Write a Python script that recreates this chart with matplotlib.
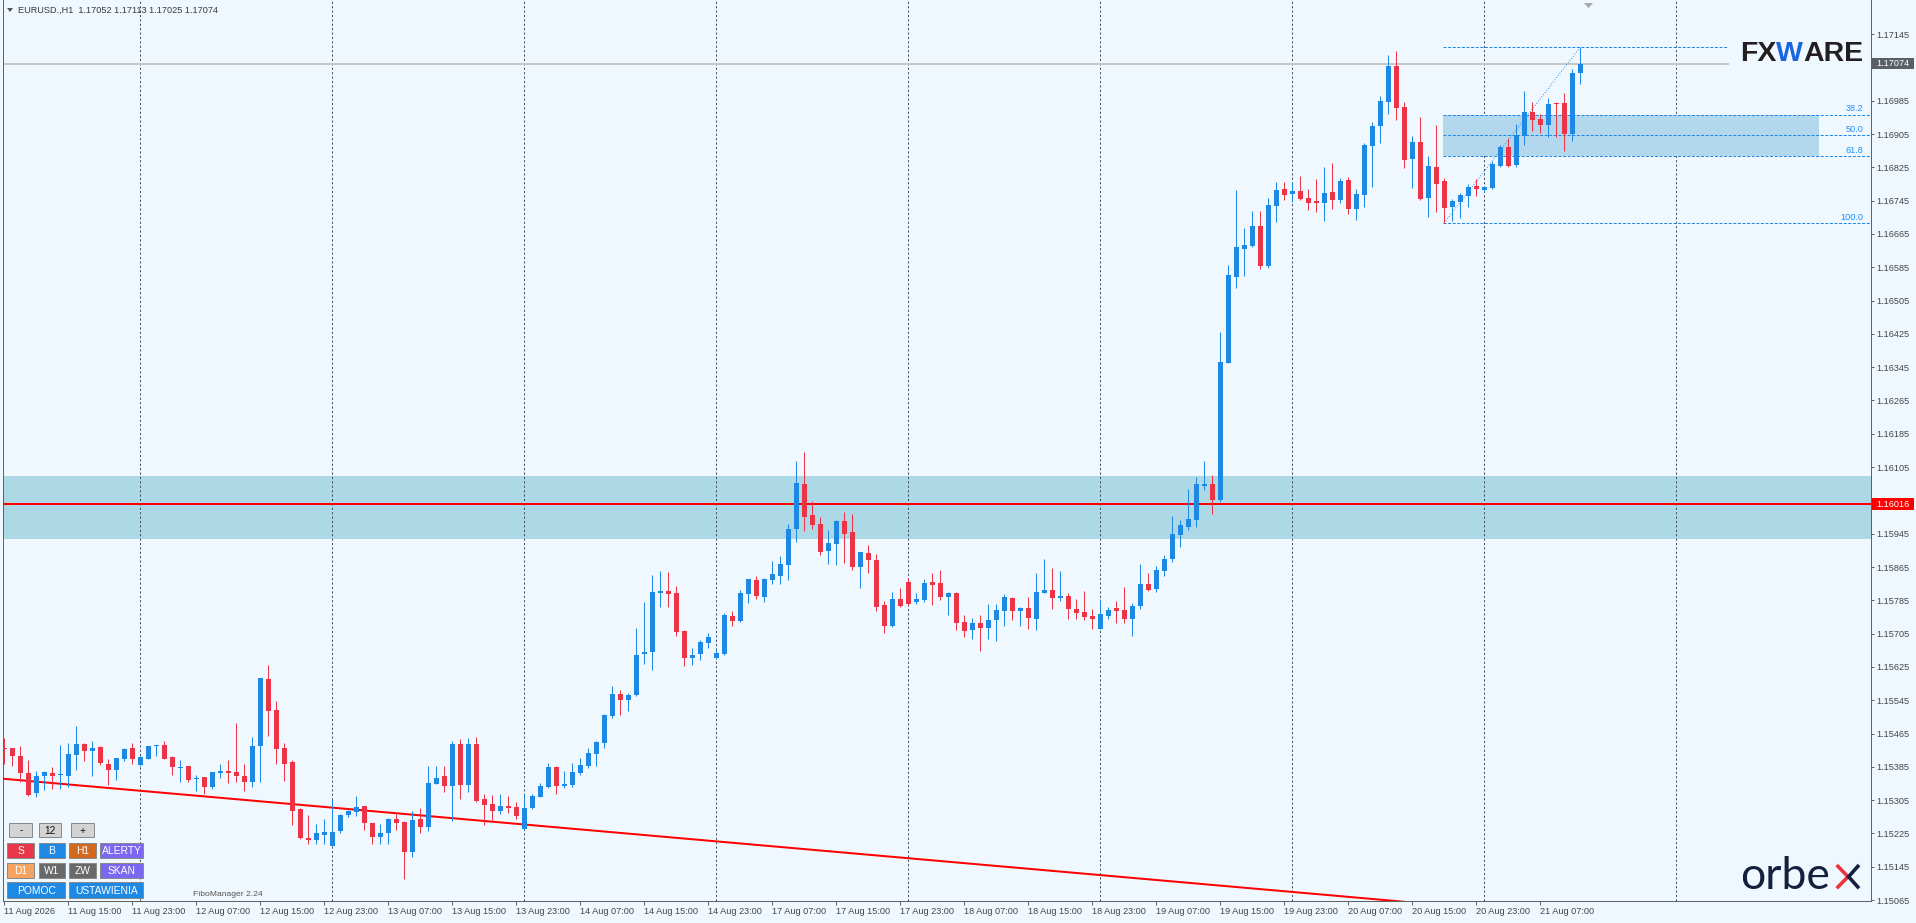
import matplotlib
matplotlib.use("Agg")
import matplotlib.pyplot as plt
from matplotlib.patches import Rectangle, Polygon
from matplotlib.lines import Line2D

plt.rcParams['font.family'] = ['Liberation Sans', 'DejaVu Sans']

# ---------------- data (EURUSD H1, bars from 11 Aug 2026 07:00) ----------------
opens = [1.15431, 1.15430, 1.15411, 1.15370, 1.15323, 1.15362, 1.15370, 1.15365, 1.15363, 1.15414,
         1.15440, 1.15424, 1.15432, 1.15393, 1.15378, 1.15404, 1.15430, 1.15390, 1.15404, 1.15434,
         1.15438, 1.15408, 1.15383, 1.15386, 1.15355, 1.15360, 1.15337, 1.15371, 1.15375, 1.15373,
         1.15362, 1.15349, 1.15435, 1.15595, 1.15522, 1.15430, 1.15397, 1.15283, 1.15213, 1.15209,
         1.15222, 1.15196, 1.15232, 1.15269, 1.15277, 1.15291, 1.15249, 1.15217, 1.15225, 1.15260,
         1.15253, 1.15181, 1.15259, 1.15241, 1.15345, 1.15363, 1.15339, 1.15440, 1.15341, 1.15440,
         1.15307, 1.15296, 1.15280, 1.15291, 1.15289, 1.15235, 1.15285, 1.15313, 1.15336, 1.15385,
         1.15340, 1.15341, 1.15371, 1.15388, 1.15417, 1.15443, 1.15507, 1.15560, 1.15546, 1.15557,
         1.15657, 1.15661, 1.15803, 1.15807, 1.15803, 1.15712, 1.15647, 1.15656, 1.15683, 1.15646,
         1.15656, 1.15747, 1.15735, 1.15800, 1.15834, 1.15794, 1.15834, 1.15843, 1.15870, 1.15956,
         1.16064, 1.15990, 1.15968, 1.15904, 1.15920, 1.15976, 1.15949, 1.15865, 1.15899, 1.15882,
         1.15774, 1.15723, 1.15788, 1.15829, 1.15781, 1.15786, 1.15829, 1.15827, 1.15793, 1.15803,
         1.15733, 1.15714, 1.15731, 1.15719, 1.15738, 1.15759, 1.15791, 1.15759, 1.15767, 1.15740,
         1.15803, 1.15810, 1.15791, 1.15795, 1.15764, 1.15757, 1.15747, 1.15716, 1.15747, 1.15767,
         1.15762, 1.15740, 1.15771, 1.15824, 1.15812, 1.15855, 1.15884, 1.15942, 1.15962, 1.15978,
         1.16060, 1.16064, 1.16026, 1.16355, 1.16562, 1.16629, 1.16636, 1.16684, 1.16588, 1.16732,
         1.16773, 1.16762, 1.16768, 1.16751, 1.16744, 1.16739, 1.16766, 1.16746, 1.16795, 1.16725,
         1.16759, 1.16876, 1.16924, 1.16982, 1.17068, 1.16970, 1.16845, 1.16886, 1.16751, 1.16826,
         1.16792, 1.16730, 1.16742, 1.16756, 1.16780, 1.16771, 1.16775, 1.16828, 1.16874, 1.16831,
         1.16900, 1.16958, 1.16941, 1.16927, 1.16980, 1.16980, 1.16905, 1.17052]
highs = [1.15454, 1.15431, 1.15435, 1.15402, 1.15374, 1.15375, 1.15384, 1.15438, 1.15442, 1.15482,
         1.15442, 1.15447, 1.15435, 1.15404, 1.15406, 1.15430, 1.15442, 1.15410, 1.15436, 1.15438,
         1.15447, 1.15410, 1.15402, 1.15387, 1.15366, 1.15361, 1.15373, 1.15393, 1.15402, 1.15491,
         1.15391, 1.15456, 1.15599, 1.15630, 1.15543, 1.15442, 1.15402, 1.15285, 1.15269, 1.15248,
         1.15260, 1.15309, 1.15272, 1.15281, 1.15315, 1.15292, 1.15251, 1.15247, 1.15261, 1.15272,
         1.15254, 1.15280, 1.15285, 1.15386, 1.15386, 1.15387, 1.15446, 1.15452, 1.15454, 1.15456,
         1.15320, 1.15317, 1.15321, 1.15315, 1.15301, 1.15320, 1.15320, 1.15347, 1.15395, 1.15386,
         1.15375, 1.15395, 1.15406, 1.15431, 1.15447, 1.15512, 1.15580, 1.15570, 1.15562, 1.15719,
         1.15781, 1.15846, 1.15855, 1.15853, 1.15819, 1.15714, 1.15670, 1.15690, 1.15706, 1.15668,
         1.15755, 1.15759, 1.15810, 1.15837, 1.15843, 1.15839, 1.15879, 1.15891, 1.15968, 1.16120,
         1.16141, 1.16024, 1.15985, 1.15954, 1.15978, 1.15997, 1.15992, 1.15902, 1.15918, 1.15896,
         1.15783, 1.15805, 1.15815, 1.15839, 1.15803, 1.15836, 1.15851, 1.15858, 1.15805, 1.15804,
         1.15750, 1.15743, 1.15750, 1.15776, 1.15776, 1.15800, 1.15793, 1.15769, 1.15793, 1.15851,
         1.15884, 1.15863, 1.15855, 1.15803, 1.15788, 1.15807, 1.15764, 1.15788, 1.15769, 1.15783,
         1.15817, 1.15779, 1.15872, 1.15851, 1.15867, 1.15894, 1.15988, 1.15978, 1.16052, 1.16081,
         1.16120, 1.16086, 1.16430, 1.16590, 1.16771, 1.16679, 1.16720, 1.16720, 1.16751, 1.16790,
         1.16790, 1.16790, 1.16804, 1.16773, 1.16797, 1.16826, 1.16835, 1.16799, 1.16802, 1.16773,
         1.16883, 1.16934, 1.16996, 1.17095, 1.17104, 1.16982, 1.16900, 1.16946, 1.16852, 1.16927,
         1.16799, 1.16749, 1.16763, 1.16785, 1.16797, 1.16779, 1.16840, 1.16879, 1.16896, 1.16929,
         1.17008, 1.16982, 1.16953, 1.16992, 1.16982, 1.17004, 1.17061, 1.17113]
lows = [1.15393, 1.15386, 1.15349, 1.15316, 1.15313, 1.15329, 1.15333, 1.15333, 1.15337, 1.15378,
        1.15398, 1.15363, 1.15390, 1.15341, 1.15353, 1.15400, 1.15393, 1.15387, 1.15403, 1.15410,
        1.15403, 1.15366, 1.15349, 1.15349, 1.15328, 1.15321, 1.15333, 1.15358, 1.15347, 1.15349,
        1.15328, 1.15337, 1.15349, 1.15459, 1.15391, 1.15352, 1.15245, 1.15212, 1.15199, 1.15199,
        1.15199, 1.15195, 1.15227, 1.15264, 1.15267, 1.15233, 1.15199, 1.15199, 1.15199, 1.15233,
        1.15116, 1.15169, 1.15227, 1.15232, 1.15344, 1.15325, 1.15256, 1.15307, 1.15324, 1.15301,
        1.15245, 1.15257, 1.15272, 1.15275, 1.15260, 1.15233, 1.15284, 1.15312, 1.15334, 1.15321,
        1.15334, 1.15337, 1.15365, 1.15383, 1.15388, 1.15431, 1.15503, 1.15510, 1.15520, 1.15556,
        1.15633, 1.15618, 1.15770, 1.15770, 1.15699, 1.15627, 1.15630, 1.15642, 1.15670, 1.15645,
        1.15654, 1.15723, 1.15734, 1.15779, 1.15788, 1.15781, 1.15824, 1.15824, 1.15834, 1.15925,
        1.15951, 1.15956, 1.15894, 1.15872, 1.15870, 1.15875, 1.15858, 1.15815, 1.15851, 1.15759,
        1.15706, 1.15721, 1.15770, 1.15774, 1.15776, 1.15781, 1.15774, 1.15786, 1.15750, 1.15714,
        1.15697, 1.15692, 1.15663, 1.15692, 1.15687, 1.15723, 1.15738, 1.15723, 1.15716, 1.15714,
        1.15802, 1.15764, 1.15783, 1.15740, 1.15740, 1.15738, 1.15716, 1.15715, 1.15740, 1.15731,
        1.15731, 1.15699, 1.15764, 1.15807, 1.15805, 1.15843, 1.15877, 1.15913, 1.15954, 1.15962,
        1.16050, 1.15992, 1.16021, 1.16354, 1.16535, 1.16564, 1.16634, 1.16581, 1.16583, 1.16694,
        1.16746, 1.16742, 1.16746, 1.16722, 1.16718, 1.16696, 1.16725, 1.16739, 1.16713, 1.16699,
        1.16730, 1.16778, 1.16883, 1.16953, 1.16939, 1.16823, 1.16775, 1.16746, 1.16706, 1.16718,
        1.16691, 1.16696, 1.16703, 1.16730, 1.16756, 1.16766, 1.16774, 1.16827, 1.16826, 1.16826,
        1.16879, 1.16912, 1.16907, 1.16898, 1.16898, 1.16864, 1.16888, 1.17025]
closes = [1.15427, 1.15410, 1.15370, 1.15317, 1.15363, 1.15373, 1.15364, 1.15367, 1.15416, 1.15440,
          1.15424, 1.15430, 1.15395, 1.15378, 1.15406, 1.15428, 1.15404, 1.15408, 1.15435, 1.15436,
          1.15404, 1.15384, 1.15385, 1.15353, 1.15359, 1.15337, 1.15372, 1.15375, 1.15371, 1.15362,
          1.15349, 1.15435, 1.15598, 1.15520, 1.15429, 1.15393, 1.15280, 1.15215, 1.15209, 1.15225,
          1.15229, 1.15229, 1.15269, 1.15279, 1.15289, 1.15249, 1.15217, 1.15225, 1.15260, 1.15249,
          1.15181, 1.15257, 1.15241, 1.15347, 1.15359, 1.15339, 1.15440, 1.15342, 1.15440, 1.15304,
          1.15293, 1.15280, 1.15291, 1.15287, 1.15267, 1.15286, 1.15315, 1.15339, 1.15385, 1.15340,
          1.15344, 1.15373, 1.15389, 1.15418, 1.15445, 1.15509, 1.15560, 1.15546, 1.15557, 1.15654,
          1.15661, 1.15805, 1.15807, 1.15801, 1.15709, 1.15647, 1.15654, 1.15685, 1.15697, 1.15658,
          1.15750, 1.15735, 1.15803, 1.15836, 1.15795, 1.15836, 1.15848, 1.15872, 1.15956, 1.16067,
          1.15985, 1.15966, 1.15901, 1.15923, 1.15976, 1.15944, 1.15865, 1.15901, 1.15882, 1.15769,
          1.15723, 1.15788, 1.15771, 1.15776, 1.15788, 1.15827, 1.15822, 1.15793, 1.15803, 1.15731,
          1.15712, 1.15731, 1.15719, 1.15738, 1.15762, 1.15793, 1.15759, 1.15767, 1.15743, 1.15805,
          1.15810, 1.15791, 1.15795, 1.15764, 1.15755, 1.15745, 1.15740, 1.15752, 1.15762, 1.15759,
          1.15740, 1.15771, 1.15824, 1.15810, 1.15858, 1.15884, 1.15944, 1.15966, 1.15980, 1.16064,
          1.16064, 1.16026, 1.16357, 1.16566, 1.16634, 1.16638, 1.16684, 1.16588, 1.16734, 1.16771,
          1.16759, 1.16768, 1.16749, 1.16739, 1.16739, 1.16763, 1.16746, 1.16792, 1.16725, 1.16761,
          1.16879, 1.16924, 1.16984, 1.17068, 1.16967, 1.16843, 1.16886, 1.16749, 1.16828, 1.16785,
          1.16727, 1.16744, 1.16759, 1.16778, 1.16773, 1.16778, 1.16833, 1.16874, 1.16828, 1.16903,
          1.16958, 1.16939, 1.16927, 1.16977, 1.16978, 1.16905, 1.17052, 1.17074]

header_text = "EURUSD.,H1  1.17052 1.17113 1.17025 1.17074"
xtick_idx = [0, 8, 16, 24, 32, 40, 48, 56, 64, 72, 80, 88, 96, 104, 112, 120, 128, 136,
             144, 152, 160, 168, 176, 184, 192]
xtick_labels = ["11 Aug 2026", "11 Aug 15:00", "11 Aug 23:00", "12 Aug 07:00", "12 Aug 15:00",
                "12 Aug 23:00", "13 Aug 07:00", "13 Aug 15:00", "13 Aug 23:00", "14 Aug 07:00",
                "14 Aug 15:00", "14 Aug 23:00", "17 Aug 07:00", "17 Aug 15:00", "17 Aug 23:00",
                "18 Aug 07:00", "18 Aug 15:00", "18 Aug 23:00", "19 Aug 07:00", "19 Aug 15:00",
                "19 Aug 23:00", "20 Aug 07:00", "20 Aug 15:00", "20 Aug 23:00", "21 Aug 07:00"]
ytick_vals = [1.15065, 1.15145, 1.15225, 1.15305, 1.15385, 1.15465, 1.15545, 1.15625, 1.15705,
              1.15785, 1.15865, 1.15945, 1.16025, 1.16105, 1.16185, 1.16265, 1.16345, 1.16425,
              1.16505, 1.16585, 1.16665, 1.16745, 1.16825, 1.16905, 1.16985, 1.17065, 1.17145]
day_sep_idx = [17, 41, 65, 89, 113, 137, 161, 185, 209]

zone_low, zone_high = 1.15932, 1.16084
level_line = 1.16016
last_price = 1.17074
trend_idx = [-1, 175]
trend_val = [1.15358, 1.15061]
fib_low_idx, fib_high_idx = 180, 197
fib_ratios = [0.0, 38.2, 50.0, 61.8, 100.0]

# ---------------- figure ----------------
W, H = 1916, 923
PT = 0.72
BG = '#f0f8ff'
BULL = '#1e88e5'
BEAR = '#ec3446'
AXC = '#5f6368'
TXT = '#454545'

fig = plt.figure(figsize=(W / 100, H / 100), dpi=100, facecolor=BG)
L_px, R_px, B_px = 2.5, 1871.0, 901.0
ax = fig.add_axes([L_px / W, 1 - B_px / H, (R_px - L_px) / W, B_px / H])
ax.set_facecolor(BG)
X_LEFT, X_RIGHT = -0.1875, 233.375
Y_BOT, Y_TOP = 1.150628, 1.17227
ax.set_xlim(X_LEFT, X_RIGHT)
ax.set_ylim(Y_BOT, Y_TOP)
px_p = (Y_TOP - Y_BOT) / B_px
ax_w_px = R_px - L_px

def fx(x):
    return x / W

def fy(y):
    return 1 - y / H

# zone and separators
ax.axhspan(zone_low, zone_high, color='#add8e6', zorder=0.5, lw=0)
for g in day_sep_idx:
    ax.axvline(g, color='#44505c', lw=1 * PT, dashes=(2.2, 2.2), zorder=1)

# horizontal lines
ax.hlines(last_price, X_LEFT, 215.6, color='#c8c8c8', lw=2 * PT, zorder=2)
ax.axhline(level_line, color='#ff0000', lw=2 * PT, zorder=3)
ax.plot(trend_idx, trend_val, color='#ff0000', lw=2 * PT, zorder=3)

# fibonacci
f_lo = lows[fib_low_idx]
f_hi = highs[fib_high_idx]
fib_prices = [f_hi - r / 100.0 * (f_hi - f_lo) for r in fib_ratios]
FIBC = '#1e88e5'
fx0 = fib_low_idx - 0.1
ax.add_patch(Rectangle((fx0, fib_prices[3]), 226.9 - fx0, fib_prices[1] - fib_prices[3],
                       facecolor='#b3d7ec', edgecolor='none', zorder=1.5))
for r, p in zip(fib_ratios, fib_prices):
    xe = 215.5 if r == 0.0 else X_RIGHT
    ax.hlines(p, fx0, xe, color=FIBC, lw=1 * PT, linestyles=(0, (3.0, 1.6)), zorder=2.5)
    if r != 0.0:
        ax.annotate(f"{r:.1f}", xy=(232.4, p), xytext=(0, 0.8), textcoords='offset points',
                    ha='right', va='bottom', fontsize=6.6, color='#1e90ff', zorder=6)
ax.plot([fib_low_idx, fib_high_idx], [f_lo, f_hi], color=FIBC, lw=1 * PT,
        dashes=(0.9, 1.8), zorder=2.6)

# candles
idx = list(range(len(opens)))
colors = [BULL if c >= o else BEAR for o, c in zip(opens, closes)]
bottoms = [min(o, c) for o, c in zip(opens, closes)]
heights = [max(abs(c - o), px_p) for o, c in zip(opens, closes)]
ax.vlines(idx, lows, highs, colors=colors, linewidth=1 * PT, zorder=4)
ax.bar(idx, heights, bottom=bottoms, width=0.625, color=colors, linewidth=0, zorder=5)

# axes styling
for s in ['left', 'bottom', 'right']:
    ax.spines[s].set_color(AXC)
    ax.spines[s].set_linewidth(1 * PT)
ax.spines['top'].set_visible(False)
ax.set_xticks(xtick_idx)
ax.set_xticklabels(xtick_labels, ha='left')
ax.tick_params(axis='x', direction='out', length=4 * PT, width=1 * PT, color=AXC,
               labelsize=6.6, labelcolor=TXT, pad=1.5)
ax.yaxis.tick_right()
ax.set_yticks(ytick_vals)
# labels hidden behind the price boxes are left blank
hidden = [v for v in ytick_vals if abs(v - last_price) < 0.0002 or abs(v - level_line) < 0.0002]
ax.set_yticklabels(["" if v in hidden else f"{v:.5f}" for v in ytick_vals])
ax.tick_params(axis='y', direction='out', length=3 * PT, width=1 * PT, color=AXC,
               labelsize=6.6, labelcolor=TXT, pad=2)

# price boxes on the axis
ytr = ax.get_yaxis_transform()
def price_box(price, fc, label):
    h = 5.7 * px_p
    ax.add_patch(Rectangle((1.0 + 1.0 / ax_w_px, price - h), 42.0 / ax_w_px, 2 * h, transform=ytr,
                           facecolor=fc, edgecolor='none', clip_on=False, zorder=10))
    ax.text(1.0 + 22.0 / ax_w_px, price, label, transform=ytr, ha='center', va='center',
            fontsize=6.6, color='white', clip_on=False, zorder=11)

price_box(last_price, '#5a6066', f"{last_price:.5f}")
price_box(level_line, '#ff0000', f"{level_line:.5f}")

# header
fig.add_artist(Polygon([(fx(7), fy(8)), (fx(13), fy(8)), (fx(10), fy(12))], closed=True,
                       transform=fig.transFigure, facecolor='#555555', edgecolor='none', zorder=6))
fig.text(fx(18), fy(10.5), header_text, ha='left', va='center', fontsize=6.6, color='#3a3a3a')
fig.add_artist(Polygon([(fx(1584), fy(3)), (fx(1593), fy(3)), (fx(1588.5), fy(8))], closed=True,
                       transform=fig.transFigure, facecolor='#a8a8a8', edgecolor='none', zorder=6))

# FXWARE logo
t1 = fig.text(fx(1740), fy(61), "FX", ha='left', va='baseline', fontsize=20.5,
              fontweight='bold', color='#231f20')
t2 = ax.annotate("W", xy=(1, 0), xycoords=t1, ha='left', va='bottom', fontsize=20.5,
                 fontweight='bold', color='#1a66e0', annotation_clip=False)
t3 = ax.annotate("ARE", xy=(1, 0), xycoords=t2, ha='left', va='bottom', fontsize=20.5,
                 fontweight='bold', color='#231f20', annotation_clip=False)

# orbex logo
fig.text(fx(1740), fy(889.3), "orbe", ha='left', va='baseline', fontsize=32.0,
         family=['Lato', 'DejaVu Sans'], color='#13213d')
fig.add_artist(Line2D([fx(1836.7), fx(1848.0), fx(1836.7)], [fy(865), fy(876.7), fy(888.3)],
                      transform=fig.transFigure, color='#ee3340', lw=3.6 * PT,
                      solid_joinstyle='miter', solid_capstyle='butt', zorder=6))
fig.add_artist(Line2D([fx(1859), fx(1848.6), fx(1859)], [fy(865), fy(876.7), fy(888.3)],
                      transform=fig.transFigure, color='#13213d', lw=3.6 * PT,
                      solid_joinstyle='miter', solid_capstyle='butt', zorder=6))

# control buttons (bottom-left panel)
buttons = [
    ("-", 9.3, 823.3, 32.3, 837.3, '#d3d3d3', '#111111'),
    ("12", 38.7, 823.3, 61.0, 837.3, '#d3d3d3', '#111111'),
    ("+", 71.3, 823.3, 94.3, 837.3, '#d3d3d3', '#111111'),
    ("S", 7.3, 842.7, 34.0, 858.0, '#e8374a', 'white'),
    ("B", 38.7, 842.7, 65.3, 858.0, '#1e88e5', 'white'),
    ("H1", 69.3, 842.7, 96.3, 858.0, '#d2691e', 'white'),
    ("ALERTY", 100.3, 842.7, 143.3, 858.0, '#7b68ee', 'white'),
    ("D1", 7.3, 862.7, 34.0, 878.3, '#f4a460', 'white'),
    ("W1", 38.7, 862.7, 65.3, 878.3, '#696969', 'white'),
    ("ZW", 69.3, 862.7, 96.3, 878.3, '#696969', 'white'),
    ("SKAN", 100.3, 862.7, 143.3, 878.3, '#7b68ee', 'white'),
    ("POMOC", 7.3, 882.3, 65.3, 898.3, '#1e88e5', 'white'),
    ("USTAWIENIA", 69.3, 882.3, 143.3, 898.3, '#1e88e5', 'white'),
]
for lab, x0, y0, x1, y1, fc, tc in buttons:
    fig.add_artist(Rectangle((fx(x0), fy(y1)), (x1 - x0) / W, (y1 - y0) / H,
                             transform=fig.transFigure, facecolor=fc, edgecolor='#8a8a8a',
                             lw=1 * PT, zorder=6))
    fig.text(fx((x0 + x1) / 2), fy((y0 + y1) / 2 + 0.3), lab, ha='center', va='center',
             fontsize=7.4, color=tc, zorder=7)
fig.text(fx(193), fy(895), "FiboManager 2.24", ha='left', va='center', fontsize=6.1,
         color='#555555')

fig.savefig("out.png", dpi=100, facecolor=BG)
